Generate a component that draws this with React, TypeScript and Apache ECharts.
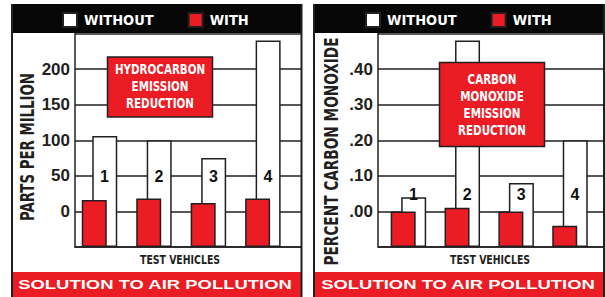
import { useEffect, useRef } from 'react';
import * as echarts from 'echarts';

const vehicles = [1, 2, 3, 4];
const hcWithout = [106, 100, 75, 240];
const hcWith = [16, 18, 12, 18];
const coWithout = [0.04, 0.48, 0.08, 0.2];
const coWith = [0.0, 0.01, 0.0, -0.04];
const legendNames = ['WITHOUT', 'WITH'];
const hcFloor = -50; // bars rise from the bottom of the axis
const coFloor = -0.1;
const hcTop = 250;
const coTop = 0.5;
const hcNumberLevel = 50;
const coNumberLevel = 0.05;
const hcLabelMax = 200;
const coLabelMax = 0.4;

const RED = '#ec1c24';
const INK = '#231f20';
const COND = '"DejaVu Sans Condensed", "DejaVu Sans", sans-serif';
const SANS = '"Liberation Sans", Arial, sans-serif';

const shift = (arr: number[], floor: number) =>
  arr.map((v, i) => [vehicles[i], +(v - floor).toFixed(4)]);

function scaledText(
  x: number,
  y: number,
  text: string,
  size: number,
  sx: number,
  opts: { rotation?: number; color?: string; z?: number; lineHeight?: number; family?: string } = {}
) {
  return {
    type: 'text',
    x,
    y,
    rotation: opts.rotation ?? 0,
    scaleX: sx,
    z: opts.z ?? 7,
    style: {
      text,
      fill: opts.color ?? INK,
      font: `bold ${size}px ${opts.family ?? COND}`,
      lineHeight: opts.lineHeight,
      textAlign: 'center',
      textVerticalAlign: 'middle',
      align: 'center',
      verticalAlign: 'middle',
    },
  };
}

function buildOption() {
  const lineStyle = { color: INK, width: 1.5 };
  const yAxisBase = {
    type: 'value',
    min: 0,
    axisLine: { show: true, lineStyle },
    axisTick: { show: false },
    splitLine: { show: true, lineStyle },
  };
  const tickLabel = { margin: 5, color: INK, fontFamily: SANS, fontWeight: 'bold', fontSize: 17 };
  const xAxisBase = {
    type: 'value',
    axisLine: { show: true, onZero: false, lineStyle },
    axisTick: { show: false },
    axisLabel: { show: false },
    splitLine: { show: false },
  };
  const barCommon = { barWidth: 25, barGap: '-58%' };
  const withStyle = { color: RED, borderColor: INK, borderWidth: 1.5 };
  const withoutStyle = { color: '#ffffff', borderColor: INK, borderWidth: 1.5 };
  const numLabel = {
    show: true,
    position: 'inside',
    offset: [5, 1],
    formatter: (p: any) => String(p.value[0]),
    color: '#111111',
    opacity: 1,
    textBorderWidth: 0,
    fontFamily: SANS,
    fontWeight: 'bold',
    fontSize: 16,
  };
  const legendBase = {
    data: legendNames,
    top: 12,
    padding: 0,
    itemWidth: 14,
    itemHeight: 14,
    itemGap: 34,
    icon: 'rect',
    selectedMode: false,
    z: 10,
    textStyle: { color: '#fff', fontFamily: COND, fontWeight: 'bold', fontSize: 14.5, padding: [0, 0, 0, 2] },
  };
  const vline = (x: number) => ({
    type: 'line',
    z: 6,
    shape: { x1: x, y1: 4, x2: x, y2: 297 },
    style: { stroke: INK, lineWidth: 2 },
  });

  return {
    animation: false,
    backgroundColor: '#ffffff',
    grid: [
      { left: 75, top: 33.5, width: 226, height: 213.5 },
      { left: 378, top: 33.5, width: 225, height: 213.5 },
    ],
    legend: [
      { ...legendBase, left: 62 },
      { ...legendBase, left: 365 },
    ],
    xAxis: [
      { ...xAxisBase, gridIndex: 0, min: 0.55, max: 4.7 },
      { ...xAxisBase, gridIndex: 1, min: 0.435, max: 4.613 },
    ],
    yAxis: [
      {
        ...yAxisBase,
        gridIndex: 0,
        max: hcTop - hcFloor,
        interval: 50,
        axisLabel: {
          ...tickLabel,
          formatter: (v: number) => {
            const t = Math.round(v + hcFloor);
            return t >= 0 && t <= hcLabelMax ? String(t) : '';
          },
        },
      },
      {
        ...yAxisBase,
        gridIndex: 1,
        max: +(coTop - coFloor).toFixed(2),
        interval: 0.1,
        axisLabel: {
          ...tickLabel,
          formatter: (v: number) => {
            const t = Math.round((v + coFloor) * 100);
            return t >= 0 && t <= Math.round(coLabelMax * 100) ? '.' + String(t).padStart(2, '0') : '';
          },
        },
      },
    ],
    series: [
      { type: 'bar', name: 'WITH', xAxisIndex: 0, yAxisIndex: 0, data: shift(hcWith, hcFloor), ...barCommon, z: 3, itemStyle: withStyle },
      { type: 'bar', name: 'WITHOUT', xAxisIndex: 0, yAxisIndex: 0, data: shift(hcWithout, hcFloor), ...barCommon, z: 2, itemStyle: withoutStyle },
      {
        type: 'scatter', xAxisIndex: 0, yAxisIndex: 0, silent: true, z: 4, symbolSize: 1,
        itemStyle: { color: '#ffffff' },
        data: vehicles.map((v) => [v, hcNumberLevel - hcFloor]),
        label: numLabel,
      },
      { type: 'bar', name: 'WITH', xAxisIndex: 1, yAxisIndex: 1, data: shift(coWith, coFloor), ...barCommon, z: 3, itemStyle: withStyle },
      { type: 'bar', name: 'WITHOUT', xAxisIndex: 1, yAxisIndex: 1, data: shift(coWithout, coFloor), ...barCommon, z: 2, itemStyle: withoutStyle },
      {
        type: 'scatter', xAxisIndex: 1, yAxisIndex: 1, silent: true, z: 4, symbolSize: 1,
        itemStyle: { color: '#ffffff' },
        data: vehicles.map((v) => [v, +(coNumberLevel - coFloor).toFixed(4)]),
        label: numLabel,
      },
    ],
    graphic: {
      elements: [
        { type: 'rect', z: 5, shape: { x: 11, y: 4, width: 291, height: 29 }, style: { fill: '#060606' } },
        { type: 'rect', z: 5, shape: { x: 313, y: 4, width: 292, height: 29 }, style: { fill: '#060606' } },
        { type: 'rect', z: 5, shape: { x: 11, y: 272, width: 291, height: 25 }, style: { fill: RED } },
        { type: 'rect', z: 5, shape: { x: 313, y: 272, width: 290, height: 25 }, style: { fill: RED } },
        vline(12),
        vline(301.5),
        vline(314),
        vline(604),
        scaledText(155, 285, 'SOLUTION TO AIR POLLUTION', 13, 1.42, { color: '#fff', family: SANS }),
        scaledText(458, 285, 'SOLUTION TO AIR POLLUTION', 13, 1.42, { color: '#fff', family: SANS }),
        scaledText(27, 147, 'PARTS PER MILLION', 19, 0.78, { rotation: Math.PI / 2 }),
        scaledText(331, 151.5, 'PERCENT CARBON MONOXIDE', 19, 0.8, { rotation: Math.PI / 2 }),
        scaledText(180, 259.5, 'TEST VEHICLES', 13, 0.8),
        scaledText(490, 259.5, 'TEST VEHICLES', 13, 0.8),
        { type: 'rect', z: 11, shape: { x: 107.5, y: 57, width: 105, height: 60 }, style: { fill: RED, stroke: INK, lineWidth: 1.5 } },
        scaledText(160, 86.5, 'HYDROCARBON\nEMISSION\nREDUCTION', 14, 0.82, { color: '#fff', z: 12, lineHeight: 17 }),
        { type: 'rect', z: 11, shape: { x: 439.5, y: 62.5, width: 105, height: 84 }, style: { fill: RED, stroke: INK, lineWidth: 1.5 } },
        scaledText(492, 104.5, 'CARBON\nMONOXIDE\nEMISSION\nREDUCTION', 14, 0.82, { color: '#fff', z: 12, lineHeight: 17 }),
      ],
    },
  };
}

export default function App() {
  const ref = useRef<HTMLDivElement>(null);
  useEffect(() => {
    document.body.style.margin = '0';
    if (!ref.current) return;
    const chart = echarts.init(ref.current, undefined, { renderer: 'svg' });
    chart.setOption(buildOption() as any);
    return () => chart.dispose();
  }, []);
  return (
    <div
      ref={ref}
      style={{ position: 'absolute', left: 0, top: 0, width: 605, height: 297 }}
    />
  );
}
